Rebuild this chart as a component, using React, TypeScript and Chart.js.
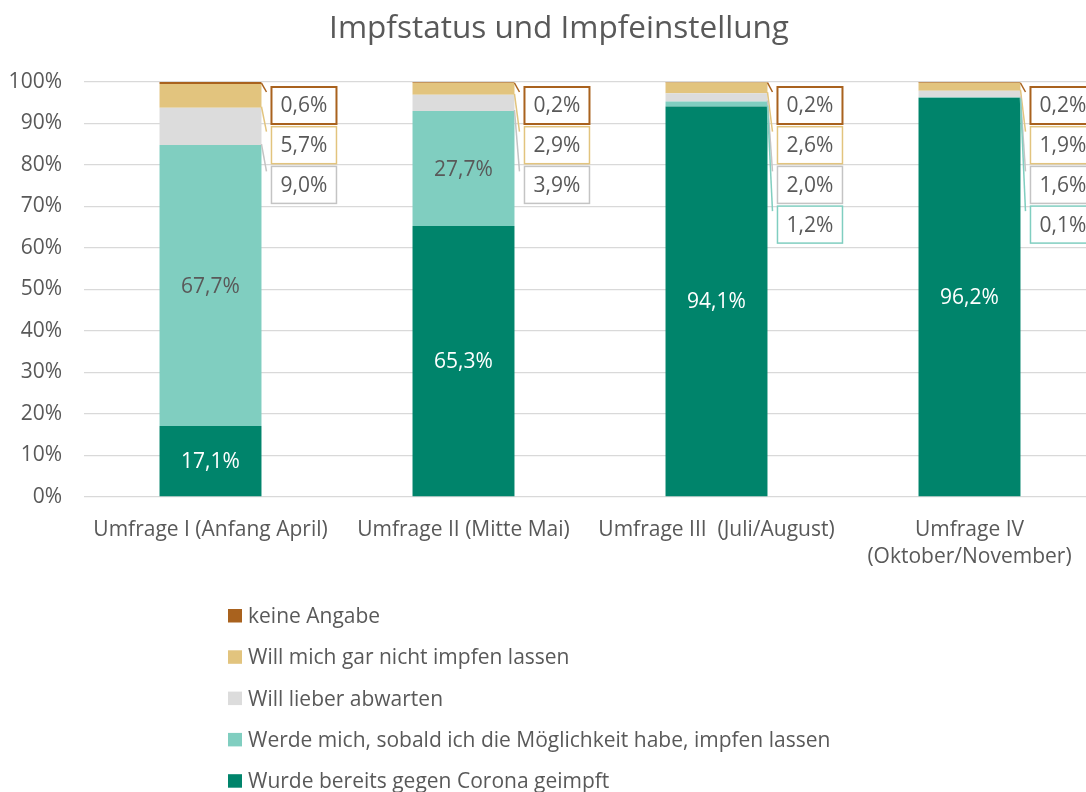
import React, { useEffect, useRef } from "react";
import { Chart, registerables } from "chart.js";

Chart.register(...registerables);

const categories: (string | string[])[] = [
  "Umfrage I (Anfang April)",
  "Umfrage II (Mitte Mai)",
  "Umfrage III  (Juli/August)",
  ["Umfrage IV", "(Oktober/November)"],
];

const seriesNames = [
  "Wurde bereits gegen Corona geimpft",
  "Werde mich, sobald ich die Möglichkeit habe, impfen lassen",
  "Will lieber abwarten",
  "Will mich gar nicht impfen lassen",
  "keine Angabe",
];

const geimpft = [17.1, 65.3, 94.1, 96.2];
const werde = [67.7, 27.7, 1.2, 0.1];
const abwarten = [9.0, 3.9, 2.0, 1.6];
const garNicht = [5.7, 2.9, 2.6, 1.9];
const keineAngabe = [0.6, 0.2, 0.2, 0.2];

const yTicks = [0, 10, 20, 30, 40, 50, 60, 70, 80, 90, 100];

const fillColors = ["#00846B", "#80CEC0", "#DCDCDC", "#E2C47E", "#A9621E"];
const borderColors = ["#00846B", "#80CEC0", "#C4C4C4", "#E2C47E", "#A9621E"];
const insideText = ["#FFFFFF", "#595959", "#595959", "#595959", "#595959"];

const FONT = "'Open Sans', sans-serif";
const GREY = "#595959";
const FS = 21;

const fmt = (v: number) => v.toFixed(1).replace(".", ",") + "%";

const CANVAS_W = 1110;
const CANVAS_H = 792;

const labelPlugin = {
  id: "labelsAndLegend",
  afterDatasetsDraw(chart: any) {
    const ctx = chart.ctx as CanvasRenderingContext2D;
    const area = chart.chartArea;
    const nSeries = chart.data.datasets.length;
    ctx.save();
    ctx.font = `${FS}px ${FONT}`;
    ctx.textAlign = "center";
    ctx.textBaseline = "middle";
    for (let ci = 0; ci < categories.length; ci++) {
      let slot = 0;
      for (let di = nSeries - 1; di >= 0; di--) {
        const ds = chart.data.datasets[di];
        const v = ds.data[ci] as number;
        const el: any = chart.getDatasetMeta(di).data[ci];
        const top = Math.min(el.y, el.base);
        const bottom = Math.max(el.y, el.base);
        const barRight = el.x + el.width / 2;
        if (v >= 10) {
          ctx.fillStyle = insideText[di];
          ctx.fillText(fmt(v), el.x, (top + bottom) / 2 + 1);
        } else {
          const boxW = 65;
          const boxH = 37;
          const boxL = barRight + 10;
          const boxT = area.top + 5 + slot * 39.7;
          slot++;
          const endX = boxL - 5;
          const endY = boxT + 5;
          const startY = Math.max(top + 1, Math.min(bottom - 1, endY));
          ctx.strokeStyle = borderColors[di];
          ctx.lineWidth = 1.5;
          ctx.beginPath();
          ctx.moveTo(barRight, startY);
          ctx.lineTo(endX, endY);
          ctx.stroke();
          ctx.fillStyle = "#FFFFFF";
          ctx.fillRect(boxL, boxT, boxW, boxH);
          ctx.lineWidth = di === 4 ? 2 : 1.5;
          ctx.strokeRect(boxL, boxT, boxW, boxH);
          ctx.fillStyle = GREY;
          ctx.fillText(fmt(v), boxL + boxW / 2, boxT + boxH / 2 + 1);
        }
      }
    }
    ctx.restore();
  },
  afterDraw(chart: any) {
    const ctx = chart.ctx as CanvasRenderingContext2D;
    ctx.save();
    ctx.fillStyle = GREY;
    ctx.font = `31.5px ${FONT}`;
    ctx.textAlign = "center";
    ctx.textBaseline = "alphabetic";
    ctx.fillText("Impfstatus und Impfeinstellung", 559, 38);
    ctx.font = `${FS}px ${FONT}`;
    ctx.textAlign = "left";
    ctx.textBaseline = "middle";
    const nSeries = chart.data.datasets.length;
    for (let i = 0; i < nSeries; i++) {
      const di = nSeries - 1 - i;
      const cy = 616 + i * 41.3;
      ctx.fillStyle = fillColors[di];
      ctx.fillRect(228, cy - 7, 14, 13.5);
      ctx.fillStyle = GREY;
      ctx.fillText(chart.data.datasets[di].label, 248, cy + 1);
    }
    ctx.restore();
  },
};

export default function App() {
  const ref = useRef<HTMLCanvasElement>(null);
  useEffect(() => {
    if (!ref.current) return;
    const series = [geimpft, werde, abwarten, garNicht, keineAngabe];
    const chart = new Chart(ref.current, {
      type: "bar",
      data: {
        labels: categories,
        datasets: series.map((d, i) => ({
          label: seriesNames[i],
          data: d,
          backgroundColor: fillColors[i],
          borderWidth: 0,
          categoryPercentage: 1,
          barPercentage: 0.403,
        })),
      },
      options: {
        responsive: false,
        animation: false,
        devicePixelRatio: 1,
        layout: { padding: { top: 82, left: 0, right: CANVAS_W - 1096, bottom: CANVAS_H - 497 - 80 } },
        plugins: {
          legend: { display: false },
          title: { display: false },
          tooltip: { enabled: false },
        },
        scales: {
          x: {
            stacked: true,
            grid: { display: false, drawTicks: false },
            border: { display: false },
            ticks: {
              color: GREY,
              font: { family: FONT, size: FS, lineHeight: 1.3 },
              padding: 19,
              maxRotation: 0,
              autoSkip: false,
            },
            afterFit: (s: any) => {
              s.height = 80;
            },
          },
          y: {
            stacked: true,
            min: 0,
            max: 100,
            afterBuildTicks: (s: any) => {
              s.ticks = yTicks.map((v) => ({ value: v }));
            },
            grid: { color: "#D9D9D9", lineWidth: 1.3, drawTicks: false },
            border: { display: false },
            ticks: {
              color: GREY,
              font: { family: FONT, size: FS },
              padding: 22,
              callback: (v: any) => v + "%",
            },
            afterFit: (s: any) => {
              s.width = 84;
            },
          },
        },
      },
      plugins: [labelPlugin],
    });
    return () => chart.destroy();
  }, []);
  return (
    <div
      style={{
        position: "fixed",
        left: 0,
        top: 0,
        width: 1086,
        height: 792,
        overflow: "hidden",
        background: "#FFFFFF",
      }}
    >
      <canvas ref={ref} width={CANVAS_W} height={CANVAS_H} style={{ display: "block" }} />
    </div>
  );
}
